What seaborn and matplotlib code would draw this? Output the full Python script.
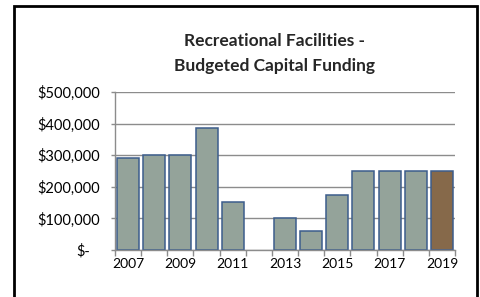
import matplotlib
matplotlib.use("Agg")
import matplotlib.pyplot as plt
import matplotlib.transforms as mtrans
import seaborn as sns
import pandas as pd
from matplotlib.patches import Rectangle
from matplotlib.ticker import FuncFormatter

# data
years = ["2007", "2008", "2009", "2010", "2011", "2012", "2013",
         "2014", "2015", "2016", "2017", "2018", "2019"]
funding = [292000, 300000, 300000, 387000, 152000, 0, 100000,
           60000, 175000, 250000, 250000, 250000, 250000]
bar_colors = ["#94a39a"] * 12 + ["#86694a"]

df = pd.DataFrame({"Year": years, "Funding": funding})

sns.set_theme(style="white")
plt.rcParams["font.family"] = ["Lato", "DejaVu Sans"]

fig = plt.figure(figsize=(4.8, 2.97), dpi=100)
ax = fig.add_axes([115 / 480, 1 - 250 / 297, 340 / 480, 158 / 297])

sns.barplot(data=df, x="Year", y="Funding", hue="Year", palette=bar_colors,
            legend=False, width=0.84, edgecolor="#3c5d8c", linewidth=1.1,
            saturation=1, ax=ax)
# no outline for the empty year
for p in ax.patches:
    if p.get_height() == 0:
        p.set_edgecolor("none")

ax.set_xlim(-0.5, 12.5)
ax.set_ylim(0, 500000)
ax.set_yticks(range(0, 500001, 100000))
ax.yaxis.set_major_formatter(FuncFormatter(lambda v, p: "$-" if v == 0 else f"${v:,.0f}"))
ax.yaxis.grid(True, color="#8c8c8c", linewidth=1)
ax.set_axisbelow(True)

# category ticks sit between bars, labels on every other year
ax.set_xticks(range(0, 13, 2))
ax.set_xticklabels(years[::2])
ax.set_xticks([i - 0.5 for i in range(14)], minor=True)
ax.tick_params(axis="x", which="major", length=0, pad=6, labelsize=10, colors="black")
ax.tick_params(axis="x", which="minor", length=4, width=1, color="#8c8c8c",
               direction="out", bottom=True)
ax.tick_params(axis="y", length=3, width=1, color="#8c8c8c", direction="out",
               pad=8, labelsize=10.5, colors="black", left=True)

for s in ["top", "right"]:
    ax.spines[s].set_visible(False)
for s in ["left", "bottom"]:
    ax.spines[s].set_color("#8c8c8c")
    ax.spines[s].set_linewidth(1)

ax.set_xlabel("")
ax.set_ylabel("")

# accounting-style zero label sits a bit left of the others
fig.canvas.draw()
zero_lbl = ax.get_yticklabels()[0]
zero_lbl.set_transform(zero_lbl.get_transform()
                       + mtrans.ScaledTranslation(-10 / 100, 0, fig.dpi_scale_trans))

fig.text(274 / 480, 1 - 53.5 / 297, "Recreational Facilities -\nBudgeted Capital Funding",
         ha="center", va="center", multialignment="center",
         fontsize=12.5, fontweight="bold", linespacing=1.7)

# outer chart frame
fig.patches.append(Rectangle((13.5 / 480, -0.2), 463 / 480, 1.2 - 5.5 / 297,
                             transform=fig.transFigure, fill=False,
                             edgecolor="black", linewidth=2))

fig.savefig("out.png", dpi=100)
